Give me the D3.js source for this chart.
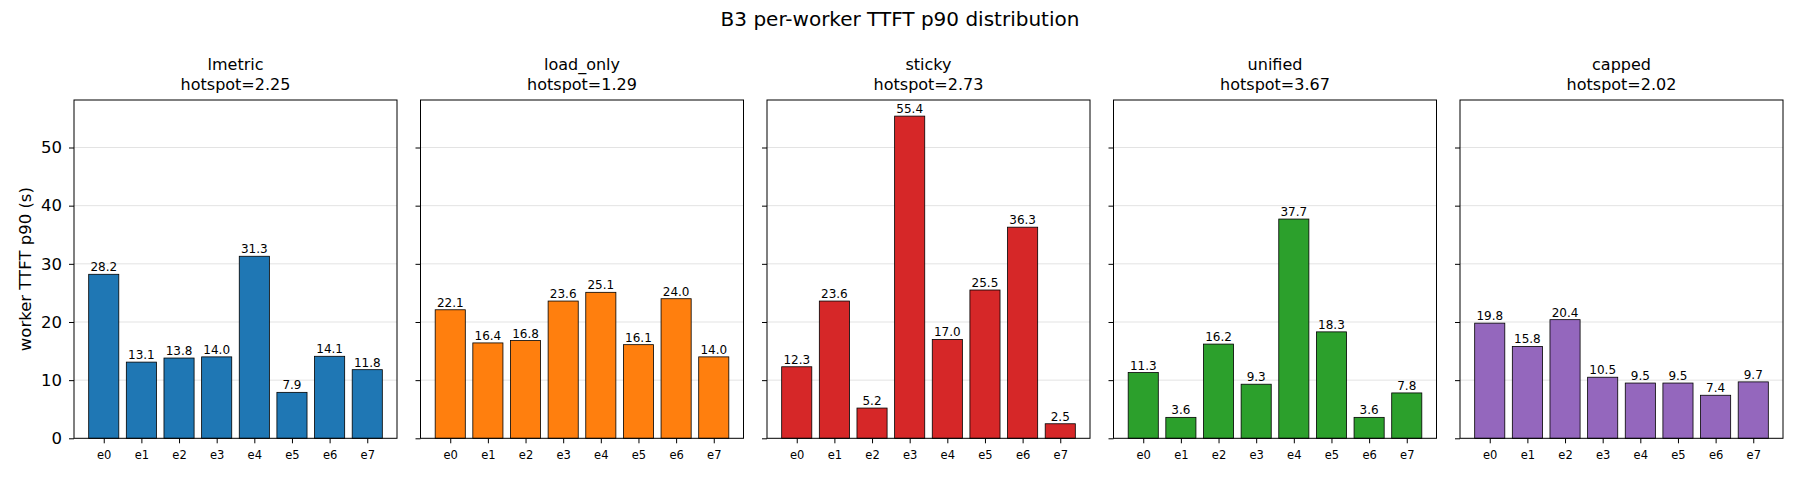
<!DOCTYPE html>
<html>
<head>
<meta charset="utf-8">
<script src="https://cdn.jsdelivr.net/npm/d3@7"></script>
<style>
  body { margin: 0; background: #fff; }
  text { font-family: "DejaVu Sans", sans-serif; fill: #000; }
</style>
</head>
<body>
<div id="chart"></div>
<script>
var vWidth = 1800;
var vHeight = 480;

// Chart data
var workers = ["e0", "e1", "e2", "e3", "e4", "e5", "e6", "e7"];
var policies = ["lmetric", "load_only", "sticky", "unified", "capped"];
var hotspots = [2.25, 1.29, 2.73, 3.67, 2.02];
var colors = ["#1f77b4", "#ff7f0e", "#d62728", "#2ca02c", "#9467bd"];
var lmetric = [28.2, 13.1, 13.8, 14.0, 31.3, 7.9, 14.1, 11.8];
var loadOnly = [22.1, 16.4, 16.8, 23.6, 25.1, 16.1, 24.0, 14.0];
var sticky = [12.3, 23.6, 5.2, 55.4, 17.0, 25.5, 36.3, 2.5];
var unified = [11.3, 3.6, 16.2, 9.3, 37.7, 18.3, 3.6, 7.8];
var capped = [19.8, 15.8, 20.4, 10.5, 9.5, 9.5, 7.4, 9.7];
var yTicks = [0, 10, 20, 30, 40, 50];

var series = [lmetric, loadOnly, sticky, unified, capped];

// Layout of the panels
var left0 = 74, panelW = 323, step = 346.5;
var plotTop = 100, plotBottom = 438.3;

var svg = d3.select("#chart")
            .append("svg")
            .attr("width", vWidth)
            .attr("height", vHeight);

var yMax = d3.max(series, s => d3.max(s)) * 1.05;
var y = d3.scaleLinear().domain([0, yMax]).range([plotBottom, plotTop]);
var barW = 0.8;
var x = d3.scaleLinear()
          .domain([-barW / 2 - 0.05 * (7 + barW), 7 + barW / 2 + 0.05 * (7 + barW)])
          .range([0, panelW]);

// Suptitle
svg.append("text")
   .attr("x", 900)
   .attr("y", 26)
   .attr("text-anchor", "middle")
   .attr("font-size", 20)
   .text("B3 per-worker TTFT p90 distribution");

// y label
svg.append("text")
   .attr("transform", "translate(31," + ((plotTop + plotBottom) / 2) + ") rotate(-90)")
   .attr("text-anchor", "middle")
   .attr("font-size", 16.5)
   .text("worker TTFT p90 (s)");

series.forEach(function(vals, i) {
    var g = svg.append("g")
               .attr("transform", "translate(" + (left0 + i * step) + ",0)");

    // grid
    g.selectAll(".grid").data(yTicks.slice(1)).enter().append("line")
     .attr("x1", 0).attr("x2", panelW)
     .attr("y1", d => y(d)).attr("y2", d => y(d))
     .attr("stroke", "#e3e3e3")
     .attr("stroke-width", 1);

    // bars
    g.selectAll("rect").data(vals).enter().append("rect")
     .attr("x", (d, j) => x(j - barW / 2))
     .attr("width", x(barW) - x(0))
     .attr("y", d => y(d))
     .attr("height", d => plotBottom - y(d))
     .attr("fill", colors[i])
     .attr("stroke", "#000")
     .attr("stroke-width", 0.8);

    // value labels
    g.selectAll(".val").data(vals).enter().append("text")
     .attr("x", (d, j) => x(j))
     .attr("y", d => y(d) - 3)
     .attr("text-anchor", "middle")
     .attr("font-size", 12)
     .text(d => d.toFixed(1));

    // frame
    g.append("rect")
     .attr("x", 0).attr("y", plotTop)
     .attr("width", panelW).attr("height", plotBottom - plotTop)
     .attr("fill", "none")
     .attr("stroke", "#000")
     .attr("stroke-width", 1);

    // y ticks
    var yAxis = d3.axisLeft(y).tickValues(yTicks).tickSize(5).tickPadding(7);
    if (i > 0) yAxis.tickFormat("");
    var ya = g.append("g").call(yAxis);
    ya.select(".domain").remove();
    ya.selectAll("text").attr("font-size", 16.5).attr("font-family", "DejaVu Sans").attr("fill", "#000");

    // x ticks
    var xAxis = d3.axisBottom(x).tickValues(d3.range(workers.length))
                  .tickFormat(j => workers[j]).tickSize(5).tickPadding(8);
    var xa = g.append("g").attr("transform", "translate(0," + plotBottom + ")").call(xAxis);
    xa.select(".domain").remove();
    xa.selectAll("text").attr("font-size", 11.5).attr("font-family", "DejaVu Sans").attr("fill", "#000");

    // titles
    g.append("text")
     .attr("x", panelW / 2).attr("y", 70)
     .attr("text-anchor", "middle")
     .attr("font-size", 16)
     .text(policies[i]);
    g.append("text")
     .attr("x", panelW / 2).attr("y", 89.5)
     .attr("text-anchor", "middle")
     .attr("font-size", 16)
     .text("hotspot=" + hotspots[i].toFixed(2));
});
</script>
</body>
</html>
